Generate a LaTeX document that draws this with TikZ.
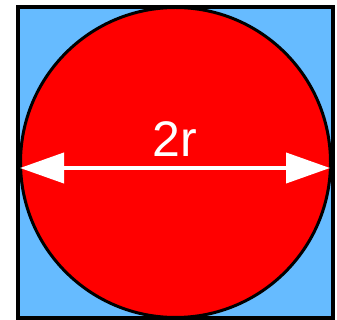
\documentclass[tikz,border=0pt]{standalone}
\usepackage{fontspec}
\setmainfont{Liberation Sans}
\usetikzlibrary{arrows.meta}

\definecolor{skyfill}{HTML}{66BBFF}
\definecolor{discred}{HTML}{FF0000}

\begin{document}
\begin{tikzpicture}[
  x=1pt,y=-1pt,
  frame/.style={draw=black,line width=4pt,fill=skyfill},
  disc/.style={draw=black,line width=3pt,fill=discred},
  diam/.style={{Triangle[length=44pt,width=30pt]}-{Triangle[length=44pt,width=30pt]},
               draw=white,fill=white,line width=4pt},
  lbl/.style={text=white,font=\fontsize{50}{50}\selectfont,inner sep=0pt},
]
\useasboundingbox (0,0) rectangle (337,320);
\draw[frame] (18,7) rectangle (333,318);
\draw[disc] (175.5,162.5) circle[radius=155];

\coordinate (left) at (20,168);
\coordinate (right) at (330,168);
\draw[diam] (left) -- (right);
\node[lbl] (rlabel) at (175,139) {2r};
\end{tikzpicture}
\end{document}
